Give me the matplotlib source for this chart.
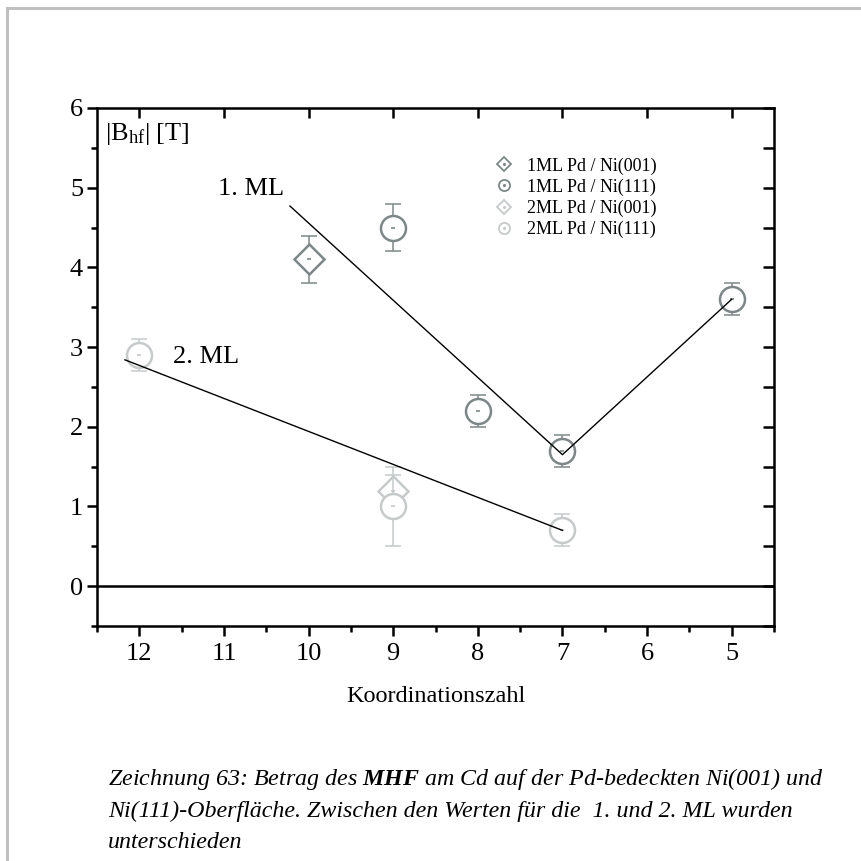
import matplotlib
matplotlib.use("Agg")
import matplotlib.pyplot as plt
from matplotlib.lines import Line2D
from matplotlib.ticker import MultipleLocator, FixedLocator

plt.rcParams['font.family'] = ['Liberation Serif', 'DejaVu Serif']
plt.rcParams['mathtext.fontset'] = 'custom'
plt.rcParams['mathtext.rm'] = 'Liberation Serif'
plt.rcParams['mathtext.it'] = 'Liberation Serif:italic'
plt.rcParams['mathtext.bf'] = 'Liberation Serif:italic:bold'

# ---- data ----
ml1_001_x = [10]
ml1_001_y = [4.1]
ml1_001_err = [0.3]

ml1_111_x = [9, 8, 7, 5]
ml1_111_y = [4.5, 2.2, 1.7, 3.6]
ml1_111_err = [0.3, 0.2, 0.2, 0.2]

ml2_001_x = [9]
ml2_001_y = [1.2]
ml2_001_err = [0.2]

ml2_111_x = [12, 9, 7]
ml2_111_y = [2.9, 1.0, 0.7]
ml2_111_err = [0.2, 0.5, 0.2]

fit1_x = [10.22, 7, 5]
fit1_y = [4.77, 1.65, 3.6]
fit2_x = [12.17, 7]
fit2_y = [2.84, 0.7]

x_ticks = [12, 11, 10, 9, 8, 7, 6, 5]
y_ticks = [0, 1, 2, 3, 4, 5, 6]

legend_labels = ["1ML Pd / Ni(001)", "1ML Pd / Ni(111)",
                 "2ML Pd / Ni(001)", "2ML Pd / Ni(111)"]

c1 = '#7d8787'
c2 = '#c6caca'

fig = plt.figure(figsize=(8.61, 8.61), dpi=100)
ax = fig.add_axes([97/861, 1-626/861, 677/861, 518/861])

def series(x, y, err, color, marker, ms, z):
    ax.errorbar(x, y, yerr=err, fmt='none', ecolor=color, elinewidth=1.1,
                capsize=5.5, capthick=1.1, zorder=z)
    ax.plot(x, y, ls='none', marker=marker, ms=ms, mfc='white', mec=color,
            mew=1.8, zorder=z + 0.1)
    ax.plot(x, y, ls='none', marker='_', ms=3, mec=color, mew=1.2, zorder=z + 0.2)

series(ml2_001_x, ml2_001_y, ml2_001_err, c2, 'D', 15.5, 3)
series(ml2_111_x, ml2_111_y, ml2_111_err, c2, 'o', 18, 4)
series(ml1_001_x, ml1_001_y, ml1_001_err, c1, 'D', 15.5, 5)
series(ml1_111_x, ml1_111_y, ml1_111_err, c1, 'o', 18, 6)

ax.plot(fit1_x, fit1_y, color='black', lw=1.0, zorder=8)
ax.plot(fit2_x, fit2_y, color='black', lw=1.0, zorder=8)
ax.axhline(0, color='black', lw=1.8, zorder=7)

ax.text(10.29, 4.98, '1. ML', ha='right', va='center', fontsize=19)
ax.text(11.6, 2.88, '2. ML', ha='left', va='center', fontsize=19)
ax.text(0.012, 0.95, r'|B$_{\mathrm{hf}}$| [T]', transform=ax.transAxes,
        ha='left', va='center', fontsize=19)

ax.set_xlim(12.5, 4.5)
ax.set_ylim(-0.5, 6)
ax.xaxis.set_major_locator(FixedLocator(x_ticks))
ax.xaxis.set_minor_locator(MultipleLocator(0.5))
ax.yaxis.set_major_locator(FixedLocator(y_ticks))
ax.yaxis.set_minor_locator(MultipleLocator(0.5))
ax.tick_params(axis='both', which='major', direction='out', length=7, width=1.8,
               labelsize=19, top=False, right=False)
ax.tick_params(axis='both', which='minor', direction='out', length=4, width=1.8,
               top=False, right=False)
ax.tick_params(axis='x', which='major', pad=5)
ax.tick_params(axis='y', which='major', pad=3)
for s in ax.spines.values():
    s.set_linewidth(1.8)

# top ticks (inward, majors only) and right ticks (inward, every 0.5)
axt = ax.secondary_xaxis('top')
axt.xaxis.set_major_locator(FixedLocator(x_ticks))
axt.tick_params(direction='in', length=7, width=1.8, labeltop=False)
axt.spines['top'].set_visible(False)
axr = ax.secondary_yaxis('right')
axr.yaxis.set_major_locator(MultipleLocator(0.5))
axr.tick_params(direction='in', length=8, width=1.8, labelright=False)
axr.spines['right'].set_visible(False)

ax.set_xlabel('Koordinationszahl', fontsize=17.5, labelpad=15)

# legend
handles = []
for col, mk in [(c1, 'D'), (c1, 'o'), (c2, 'D'), (c2, 'o')]:
    h1 = Line2D([], [], ls='none', marker=mk, ms=7 if mk == 'D' else 8,
                mfc='white', mec=col, mew=1.3)
    h2 = Line2D([], [], ls='none', marker='.', ms=2.5, mfc=col, mec=col)
    handles.append((h1, h2))
leg = ax.legend(handles, legend_labels, loc='upper left',
                bbox_to_anchor=(0.588, 0.905), frameon=False, fontsize=13,
                handlelength=1.0, handletextpad=0.75, labelspacing=0.22,
                borderpad=0, borderaxespad=0)

# caption
cap = [r"Zeichnung 63: Betrag des $\mathbf{MHF}$ am Cd auf der Pd-bedeckten Ni(001) und",
       "Ni(111)-Oberfläche. Zwischen den Werten für die  1. und 2. ML wurden",
       "unterschieden"]
for i, line in enumerate(cap):
    fig.text(108/861, 1-(779+32*i)/861, line, ha='left', va='center',
             fontsize=17.3, style='italic')

# page border
fig.add_artist(Line2D([7/861, 7/861], [0, 1-8/861], color='#c0c0c0', lw=2.2,
                      transform=fig.transFigure))
fig.add_artist(Line2D([7/861, 1], [1-8/861, 1-8/861], color='#c0c0c0', lw=2.2,
                      transform=fig.transFigure))

fig.savefig('out.png', dpi=100)
